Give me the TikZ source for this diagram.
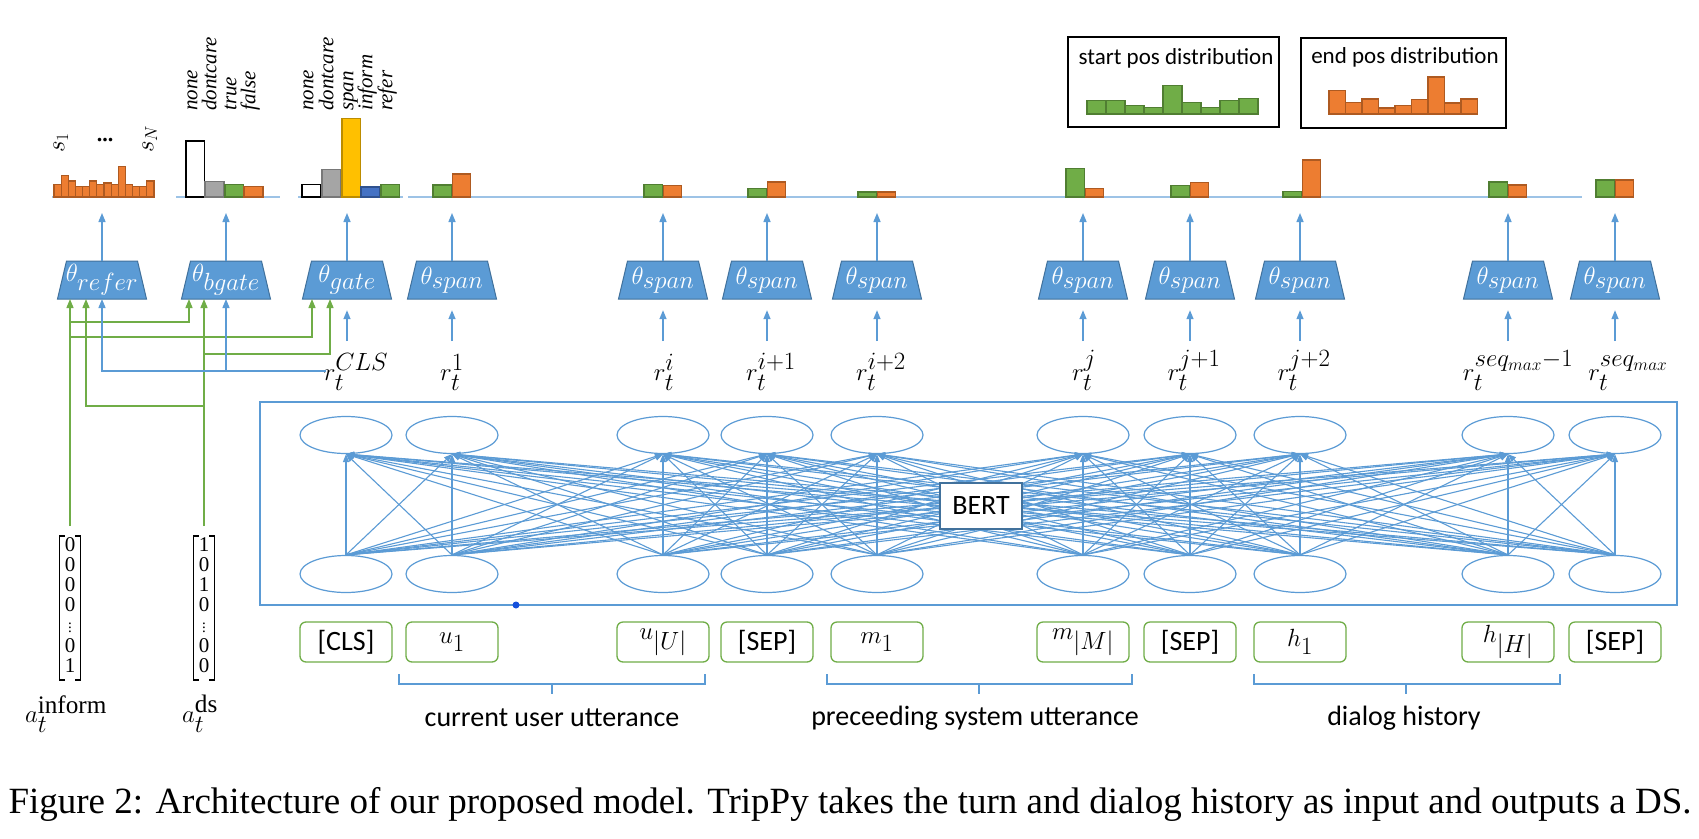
\documentclass[tikz,border=0pt]{standalone}
\usepackage{amsmath}
\usepackage{fontspec}
\setmainfont{Liberation Serif}
\newfontfamily\calib{Carlito}
\usetikzlibrary{shapes.geometric,arrows.meta}
\definecolor{oblue}{HTML}{5B9BD5}
\definecolor{oblued}{HTML}{41719C}
\definecolor{olight}{HTML}{9DC3E6}
\definecolor{ogreen}{HTML}{70AD47}
\definecolor{ogreend}{HTML}{507E32}
\definecolor{oorange}{HTML}{ED7D31}
\definecolor{oorangedk}{HTML}{AE5A21}
\definecolor{ogray}{HTML}{A5A5A5}
\definecolor{ograyd}{HTML}{787878}
\definecolor{oyellow}{HTML}{FFC000}
\definecolor{oyellowd}{HTML}{BC8C00}
\definecolor{obarb}{HTML}{4472C4}
\definecolor{obarbd}{HTML}{2F528F}
\definecolor{dotblue}{HTML}{1450DC}
\newcommand\vecentries[1]{\begin{tabular}{@{}c@{}}#1\end{tabular}}
\newcommand\smallvdots{{\fontsize{15}{15}\selectfont$\vdots$}}
\begin{document}
\begin{tikzpicture}[x=1pt,y=-1pt,
  arr/.style={draw=oblue,line width=1.4pt,-{Triangle[length=9pt,width=7pt]}},
  garr/.style={draw=ogreen,line width=1.4pt,-{Triangle[length=9pt,width=7pt]}},
  netarr/.style={draw=oblue,line width=1.1pt,-{Triangle[length=8pt,width=6pt]}},
  baseln/.style={draw=olight,line width=1.6pt},
  gbar/.style={fill=ogreen,draw=ogreend,line width=1.1pt},
  obar/.style={fill=oorange,draw=oorangedk,line width=1.1pt},
  gybar/.style={fill=ogray,draw=ograyd,line width=1.1pt},
  ybar/.style={fill=oyellow,draw=oyellowd,line width=1.1pt},
  bbar/.style={fill=obarb,draw=obarbd,line width=1.1pt},
  wbar/.style={fill=white,draw=black,line width=1.6pt},
  tfill/.style={fill=oblue,draw=oblued,line width=1pt},
  blk/.style={rectangle,minimum width=89pt,minimum height=38pt,inner sep=0pt,text=white,font=\fontsize{34}{34}\selectfont},
  ell/.style={ellipse,draw=oblue,line width=1.2pt,minimum width=92pt,minimum height=37pt,inner sep=0pt},
  tok/.style={rounded corners=6pt,draw=ogreen,line width=1.3pt,minimum width=92pt,minimum height=40pt,inner sep=0pt,font=\calib\fontsize{28}{28}\selectfont},
  mtok/.style={tok,font=\fontsize{33}{33}\selectfont},
  rlab/.style={anchor=base,inner sep=0pt,font=\fontsize{34}{34}\selectfont},
  rot/.style={rotate=90,anchor=mid west,inner sep=0pt,font=\itshape\fontsize{21}{21}\selectfont},
  distbox/.style={draw=black,line width=2pt,minimum height=90pt,inner sep=0pt},
  brace/.style={draw=oblue,line width=1.2pt},
  lbl/.style={inner sep=0pt,font=\calib\fontsize{28}{28}\selectfont},
  vecn/.style={inner xsep=5pt,inner ysep=1pt,minimum height=142pt,font=\fontsize{21}{20}\selectfont},
  bracket/.style={draw=black,line width=1.3pt}
]
\fill[white] (0,0) rectangle (1699,838);
\useasboundingbox (0,0) rectangle (1699,838);

% ---------- baselines ----------
\draw[baseln] (52,197) -- (155,197);
\draw[baseln] (176,197) -- (280,197);
\draw[baseln] (298,197) -- (403,197);
\draw[baseln] (408,197) -- (1582,197);

% ---------- refer histogram ----------
\foreach \h [count=\i from 0] in {12.3,21.7,16,10.7,10.7,16,12.7,14,12.3,30.7,12.7,10.7,10.7,16}
  \draw[obar] (54+\i*7.14,197) rectangle ++(7.14,-\h);
\node[rot,font=\fontsize{23}{23}\selectfont] (s1) at (62,153) {$s_1$};
\node[inner sep=0pt,font=\bfseries\fontsize{22}{22}\selectfont] (sdots) at (105,140) {...};
\node[rot,font=\fontsize{23}{23}\selectfont] (sN) at (151,153) {$s_N$};

% ---------- bgate histogram ----------
\draw[wbar] (186,197) rectangle (204.5,141);
\draw[gybar] (205,197) rectangle (224,181.3);
\draw[gbar] (225,197) rectangle (243.5,184.3);
\draw[obar] (244,197) rectangle (263,186.3);
\foreach \x/\t [count=\i] in {195/none,214/dontcare,234/true,253/false}
  \node[rot] (lb\i) at (\x,111) {\t};

% ---------- gate histogram ----------
\draw[wbar] (302,197) rectangle (321,184.3);
\draw[gybar] (322,197) rectangle (341,169.7);
\draw[ybar] (342,197) rectangle (360.5,118.7);
\draw[bbar] (361,197) rectangle (380,187);
\draw[gbar] (381,197) rectangle (399.5,184.3);
\foreach \x/\t [count=\i] in {311/none,331/dontcare,351/span,370/inform,390/refer}
  \node[rot] (lg\i) at (\x,111) {\t};

% ---------- span pairs ----------
\foreach \x/\g/\o in {452/12/23,663/12.7/11.7,767/8.3/15,877/5/5,1085/28.3/8.7,1190/11.7/14.3,1302/5.7/37,1508/15/12,1615/17/17} {
  \draw[gbar] (\x-19,197) rectangle (\x-0.5,197-\g);
  \draw[obar] (\x+0.5,197) rectangle (\x+18.5,197-\o);
}

% ---------- distribution boxes ----------
\node[distbox,minimum width=211pt] (sbox) at (1173.5,82) {};
\node[inner sep=0pt,font=\calib\fontsize{23}{23}\selectfont] (stxt) at (1176,58) {start pos distribution};
\foreach \h [count=\i from 0] in {13.3,13.3,8.7,6.7,28.7,11.7,6.7,13.3,15.7}
  \draw[gbar] (1087+\i*19,114) rectangle ++(19,-\h);
\node[distbox,minimum width=205pt] (ebox) at (1403.5,83) {};
\node[inner sep=0pt,font=\calib\fontsize{23}{23}\selectfont] (etxt) at (1405,57) {end pos distribution};
\foreach \h [count=\i from 0] in {23.7,11.7,15,6,8.3,14.3,37,11,15}
  \draw[obar] (1329+\i*16.5,114) rectangle ++(16.5,-\h);

% ---------- theta blocks ----------
\foreach \n/\x/\s in {tr/102/refer,tb/226/bgate,tg/347/gate,t1/452/span,t2/663/span,t3/767/span,t4/877/span,t5/1083/span,t6/1190/span,t7/1300/span,t8/1508/span,t9/1615/span} {
  \filldraw[tfill] (\x-44.5,299) -- (\x+44.5,299) -- (\x+35.5,261) -- (\x-35.5,261) -- cycle;
  \node[blk] (\n) at (\x,280) {$\theta_{\s}$};
  \coordinate (h\n) at (\x,197);
  \draw[arr,shorten >=16pt] (\n.north) -- (h\n);
}

% ---------- r labels and input arrows ----------
\node[rlab] (r0) at (356,380) {$r_t^{CLS}$};
\node[rlab] (r1) at (452,380) {$r_t^{1}$};
\node[rlab] (r2) at (664,380) {$r_t^{i}$};
\node[rlab] (r3) at (771,380) {$r_t^{i+1}$};
\node[rlab] (r4) at (881,380) {$r_t^{i+2}$};
\node[rlab] (r5) at (1084,380) {$r_t^{j}$};
\node[rlab] (r6) at (1194,380) {$r_t^{j+1}$};
\node[rlab] (r7) at (1304,380) {$r_t^{j+2}$};
\node[rlab] (r8) at (1518,380) {$r_t^{seq_{max}-1}$};
\node[rlab] (r9) at (1628,380) {$r_t^{seq_{max}}$};
\coordinate (in0) at (347,341);
\draw[arr,shorten >=11pt] (in0) -- (tg.south);
\foreach \k/\x in {1/452,2/663,3/767,4/877,5/1083,6/1190,7/1300,8/1508,9/1615} {
  \coordinate (in\k) at (\x,341);
  \draw[arr,shorten >=11pt] (in\k) -- (t\k.south);
}

% ---------- BERT ----------
\draw[draw=oblue,line width=1.5pt] (260,402) rectangle (1677,605);
\fill[dotblue] (516,605) circle (3.5);
\foreach \k/\x in {0/346,1/452,2/663,3/767,4/877,5/1083,6/1190,7/1300,8/1508,9/1615} {
  \node[ell] (e\k) at (\x,435) {};
  \node[ell] (b\k) at (\x,574) {};
}
\foreach \i in {0,...,9}
  \foreach \j in {0,...,9}
    \draw[netarr] (b\i.north) -- (e\j.south);
\node[draw=oblued,fill=white,line width=1.2pt,minimum width=82pt,minimum height=46pt,inner sep=0pt,font=\calib\fontsize{28}{28}\selectfont] (bert) at (981,506) {BERT};

% ---------- tokens ----------
\node[tok] (k0) at (346,642) {[CLS]};
\node[mtok] (k1) at (452,642) {$u_1$};
\node[mtok] (k2) at (663,642) {$u_{|U|}$};
\node[tok] (k3) at (767,642) {[SEP]};
\node[mtok] (k4) at (877,642) {$m_1$};
\node[mtok] (k5) at (1083,642) {$m_{|M|}$};
\node[tok] (k6) at (1190,642) {[SEP]};
\node[mtok] (k7) at (1300,642) {$h_1$};
\node[mtok] (k8) at (1508,642) {$h_{|H|}$};
\node[tok] (k9) at (1615,642) {[SEP]};

% ---------- braces ----------
\draw[brace] (399,674) -- (399,684) -- (705,684) -- (705,674);
\draw[brace] (552,684) -- (552,694);
\draw[brace] (827,674) -- (827,684) -- (1132,684) -- (1132,674);
\draw[brace] (979,684) -- (979,694);
\draw[brace] (1254,674) -- (1254,684) -- (1560,684) -- (1560,674);
\draw[brace] (1406,684) -- (1406,694);
\node[lbl] (l1) at (552,718) {current user utterance};
\node[lbl] (l2) at (975,718) {preceeding system utterance};
\node[lbl] (l3) at (1404,718) {dialog history};

% ---------- vectors ----------
\node[vecn] (ainf) at (70,608) {\vecentries{0\\0\\0\\0\\\smallvdots\\0\\1}};
\node[vecn] (ads) at (204,608) {\vecentries{1\\0\\1\\0\\\smallvdots\\0\\0}};
\foreach \v in {ainf,ads} {
  \draw[bracket] ([xshift=5pt]\v.north west) -- (\v.north west) -- (\v.south west) -- ([xshift=5pt]\v.south west);
  \draw[bracket] ([xshift=-5pt]\v.north east) -- (\v.north east) -- (\v.south east) -- ([xshift=-5pt]\v.south east);
}
\node[inner sep=0pt,font=\fontsize{36}{36}\selectfont] (lainf) at (66,714) {$a_t^{\mathrm{inform}}$};
\node[inner sep=0pt,font=\fontsize{36}{36}\selectfont] (lads) at (200,714) {$a_t^{\mathrm{ds}}$};

% ---------- connectors to refer / bgate / gate ----------
\coordinate (trA) at (70,299); \coordinate (trB) at (86,299); \coordinate (trC) at (102,299);
\coordinate (tbA) at (189,299); \coordinate (tbB) at (204,299); \coordinate (tbC) at (226,299);
\coordinate (tgA) at (312,299); \coordinate (tgB) at (330,299);
\coordinate (ji1) at (70,322); \coordinate (ji2) at (70,337);
\coordinate (jd1) at (204,406); \coordinate (jd2) at (204,354);
\coordinate (jc0) at (326,371); \coordinate (jc1) at (226,371);
\draw[garr,shorten <=10pt] (ainf.north) -- (trA);
\draw[garr] (ji1) -| (tbA);
\draw[garr] (ji2) -| (tgA);
\draw[garr,shorten <=10pt] (ads.north) -- (tbB);
\draw[garr] (jd1) -| (trB);
\draw[garr] (jd2) -| (tgB);
\draw[arr] (jc0) -| (trC);
\draw[arr] (jc1) -- (tbC);

% ---------- caption ----------
\node[anchor=base,inner sep=0pt,font=\fontsize{37}{37}\selectfont] (cap) at (850,813) {Figure 2: Architecture of our proposed model. TripPy takes the turn and dialog history as input and outputs a DS.};
\end{tikzpicture}
\end{document}
